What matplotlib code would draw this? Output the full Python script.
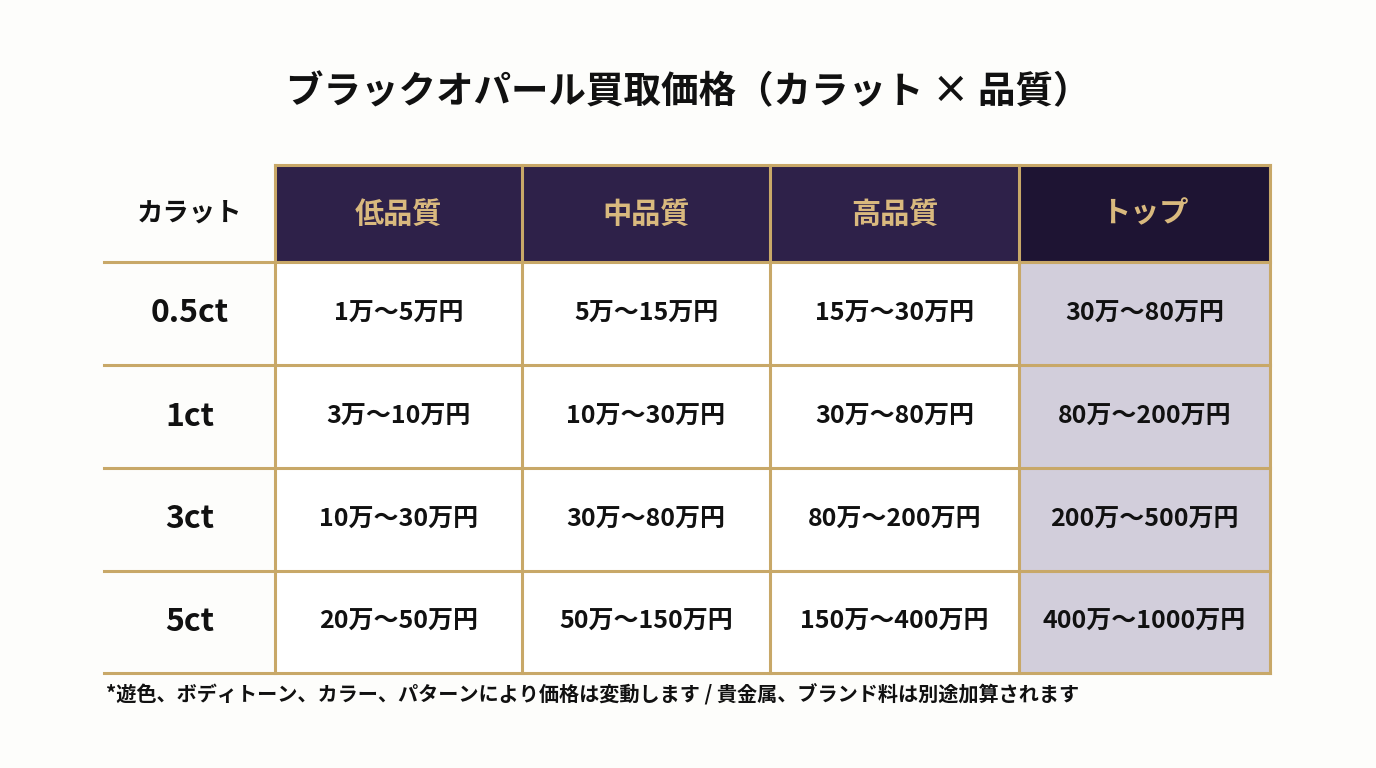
import matplotlib
matplotlib.use("Agg")
import matplotlib.pyplot as plt
from matplotlib.patches import Rectangle

plt.rcParams['font.family'] = ['Noto Sans CJK JP', 'DejaVu Sans']

title = "ブラックオパール買取価格（カラット × 品質）"
corner = "カラット"
qualities = ["低品質", "中品質", "高品質", "トップ"]
carats = ["0.5ct", "1ct", "3ct", "5ct"]
prices = [
    ["1万〜5万円", "5万〜15万円", "15万〜30万円", "30万〜80万円"],
    ["3万〜10万円", "10万〜30万円", "30万〜80万円", "80万〜200万円"],
    ["10万〜30万円", "30万〜80万円", "80万〜200万円", "200万〜500万円"],
    ["20万〜50万円", "50万〜150万円", "150万〜400万円", "400万〜1000万円"],
]
note = "*遊色、ボディトーン、カラー、パターンにより価格は変動します / 貴金属、ブランド料は別途加算されます"

W, H = 1376, 768
fig = plt.figure(figsize=(W/100, H/100), dpi=100)
fig.patch.set_facecolor("#fdfdfb")
ax = fig.add_axes([0, 0, 1, 1])
ax.set_xlim(0, W); ax.set_ylim(H, 0); ax.axis("off")

xs = [104, 275, 522, 770, 1019, 1270]
ys = [165, 262, 365, 468, 571, 673]
gold = "#c8a868"
hdr = ["#2e2149", "#2e2149", "#2e2149", "#1e1433"]
goldtxt = "#d9b97e"

ax.text(W/2, 92, title, ha="center", va="center", fontsize=27, fontweight="bold", color="#111")

# header
ax.text((xs[0]+xs[1])/2, ys[0]+48, corner, ha="center", va="center", fontsize=19, fontweight="bold", color="#111")
for j, q in enumerate(qualities):
    ax.add_patch(Rectangle((xs[j+1], ys[0]), xs[j+2]-xs[j+1], ys[1]-ys[0], facecolor=hdr[j], edgecolor="none"))
    ax.text((xs[j+1]+xs[j+2])/2, (ys[0]+ys[1])/2, q, ha="center", va="center", fontsize=21, fontweight="bold", color=goldtxt)

for i, c in enumerate(carats):
    yc = (ys[i+1]+ys[i+2])/2
    ax.text((xs[0]+xs[1])/2, yc, c, ha="center", va="center", fontsize=23, fontweight="bold", color="#111")
    for j, p in enumerate(prices[i]):
        fc = "#d2cedb" if j == len(qualities)-1 else "white"
        ax.add_patch(Rectangle((xs[j+1], ys[i+1]), xs[j+2]-xs[j+1], ys[i+2]-ys[i+1], facecolor=fc, edgecolor="none"))
        ax.text((xs[j+1]+xs[j+2])/2, yc, p, ha="center", va="center", fontsize=18, fontweight="bold", color="#111")

lw = 2.2
ax.plot([xs[1], xs[-1]], [ys[0], ys[0]], color=gold, lw=lw)
for y in ys[1:]:
    ax.plot([xs[0], xs[-1]], [y, y], color=gold, lw=lw)
for x in xs[1:]:
    ax.plot([x, x], [ys[0], ys[-1]], color=gold, lw=lw)

ax.text(xs[0]+2, 695, note, ha="left", va="center", fontsize=14.5, fontweight="bold", color="#111")

fig.savefig("out.png", dpi=100, facecolor=fig.get_facecolor())
